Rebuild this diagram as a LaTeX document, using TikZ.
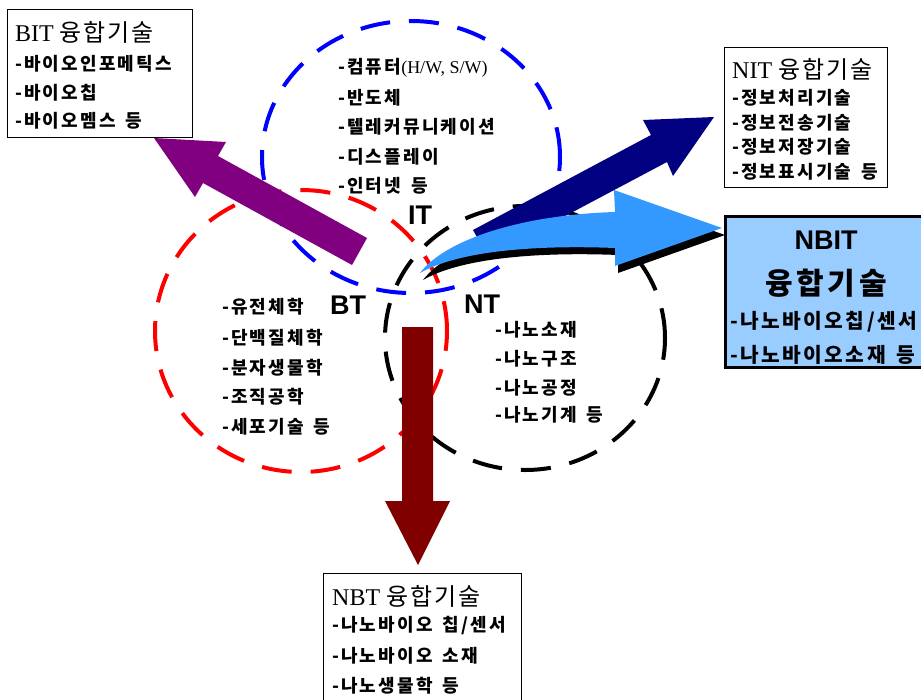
\documentclass[tikz,border=0pt]{standalone}
\usepackage{fontspec}
\setmainfont{Liberation Serif}
\newfontfamily\kr{Noto Sans CJK KR}[LetterSpace=12]
\newfontfamily\krt{Noto Sans CJK KR}[LetterSpace=8]
\newfontfamily\sansb{Liberation Sans}
\definecolor{navyc}{RGB}{0,0,128}
\definecolor{purplec}{RGB}{128,0,128}
\definecolor{maroonc}{RGB}{128,0,0}
\definecolor{lblue}{RGB}{51,153,255}
\definecolor{pblue}{RGB}{153,204,255}
\newcommand{\wsp}{\hspace{0.55em}}
\begin{document}
\begin{tikzpicture}[x=1pt,y=-1pt,
  ring/.style={line width=4pt, dash pattern=on 30pt off 19pt},
  tbox/.style={draw=black, line width=0.9pt, fill=white, inner sep=0pt},
  item/.style={anchor=west, inner sep=0pt, font=\kr\bfseries\fontsize{18}{18}\selectfont},
  ttl/.style={anchor=west, inner sep=0pt, font=\fontsize{24}{24}\selectfont},
  lab/.style={inner sep=0pt, font=\sansb\bfseries\fontsize{27}{27}\selectfont},
  bigitem/.style={anchor=west, inner sep=0pt, font=\kr\bfseries\fontsize{20.3}{20.3}\selectfont}]
\useasboundingbox (0,0) rectangle (921,699);

% circles
\draw[ring, red] (301,331) ellipse [x radius=146pt, y radius=141pt];
\draw[ring, blue] (411,157) ellipse [x radius=149pt, y radius=136pt];
\draw[ring, black] (525,338) ellipse [x radius=140pt, y radius=132pt];

% IT list
\node[item] (it1) at (338,68) {-컴퓨터{\rmfamily\mdseries\fontsize{18}{18}\selectfont (H/W, S/W)}};
\node[item] (it2) at (338,98) {-반도체};
\node[item] (it3) at (338,127) {-텔레커뮤니케이션};
\node[item] (it4) at (338,157) {-디스플레이};
\node[item] (it5) at (338,186) {-인터넷\wsp 등};

% BT list
\node[item] (bt1) at (222,307) {-유전체학};
\node[item] (bt2) at (222,338) {-단백질체학};
\node[item] (bt3) at (222,368) {-분자생물학};
\node[item] (bt4) at (222,397) {-조직공학};
\node[item] (bt5) at (222,427) {-세포기술\wsp 등};

% NT list
\node[item] (nt1) at (495,330) {-나노소재};
\node[item] (nt2) at (495,359) {-나노구조};
\node[item] (nt3) at (495,388) {-나노공정};
\node[item] (nt4) at (495,415) {-나노기계\wsp 등};

% labels
\node[lab] (itl) at (420,215) {IT};
\node[lab] (btl) at (348,305) {BT};
\node[lab] (ntl) at (482,304) {NT};

% arrows
\fill[purplec] (367,238) -- (218,156) -- (226,142) -- (154,138) -- (195,197) -- (203,183) -- (352,265) -- cycle;
\fill[maroonc] (402,327) -- (433,327) -- (433,501) -- (450,501) -- (418,565) -- (385,501) -- (402,501) -- cycle;
\fill[navyc] (473,230) -- (651,135) -- (643,120) -- (714,117) -- (673,176) -- (667,162) -- (488,257) -- cycle;
\fill[black, shift={(3,7)}] (420,273) .. controls (445,240) and (520,215) .. (615,212) -- (614,190) -- (722,228) -- (615,266) -- (615,248) .. controls (540,245) and (460,250) .. (420,273) -- cycle;
\fill[lblue] (420,273) .. controls (445,240) and (520,215) .. (615,212) -- (614,190) -- (722,228) -- (615,266) -- (615,248) .. controls (540,245) and (460,250) .. (420,273) -- cycle;

% BIT box
\node[tbox, minimum width=185pt, minimum height=128pt] (bitbox) at (99.5,73.5) {};
\node[ttl] (bitt) at (15,32) {BIT {\krt 융합기술}};
\node[item] (bit1) at (15,64) {-바이오인포메틱스};
\node[item] (bit2) at (15,93) {-바이오칩};
\node[item] (bit3) at (15,121) {-바이오멤스\wsp 등};

% NIT box
\node[tbox, minimum width=163pt, minimum height=140pt] (nitbox) at (805.5,117) {};
\node[ttl] (nitt) at (732,69) {NIT {\krt 융합기술}};
\node[item] (nit1) at (732,98) {-정보처리기술};
\node[item] (nit2) at (732,123) {-정보전송기술};
\node[item] (nit3) at (732,147) {-정보저장기술};
\node[item] (nit4) at (732,172) {-정보표시기술\wsp 등};

% NBIT box
\node[draw=black, line width=3pt, fill=pblue, inner sep=0pt, minimum width=220pt, minimum height=151pt] (nbitbox) at (835,291.5) {};
\node[lab] (nbitt) at (826,240) {NBIT};
\node[inner sep=0pt, font=\kr\bfseries\fontsize{30}{30}\selectfont] (nbitt2) at (826,283) {융합기술};
\node[bigitem] (nbit1) at (730,322) {-나노바이오칩/센서};
\node[bigitem] (nbit2) at (730,355) {-나노바이오소재\wsp 등};

% NBT box
\node[tbox, minimum width=198pt, minimum height=150pt] (nbtbox) at (422,648) {};
\node[ttl] (nbtt) at (332,596) {NBT {\krt 융합기술}};
\node[item] (nbt1) at (332,626) {-나노바이오\wsp 칩/센서};
\node[item] (nbt2) at (332,656) {-나노바이오\wsp 소재};
\node[item] (nbt3) at (332,686) {-나노생물학\wsp 등};
\end{tikzpicture}
\end{document}
